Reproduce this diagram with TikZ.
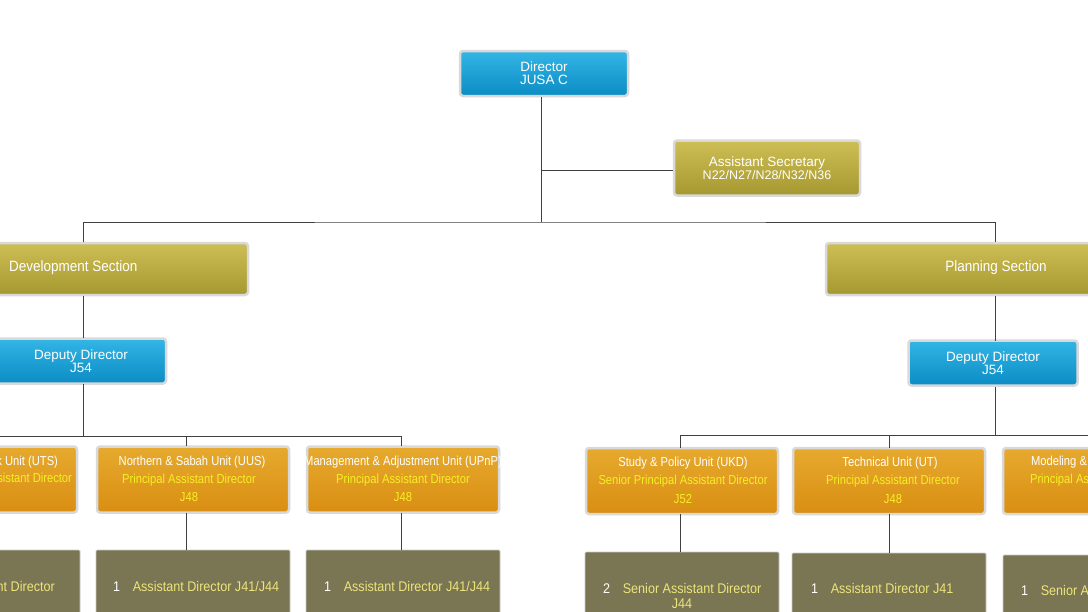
\documentclass[tikz,border=0pt]{standalone}
\usepackage{fontspec}
\setmainfont{Liberation Sans}
\definecolor{bt}{HTML}{33B5E5}\definecolor{bb}{HTML}{0B8CC4}
\definecolor{gt}{HTML}{CDBE55}\definecolor{gb}{HTML}{A69830}
\definecolor{ot}{HTML}{E6AA2E}\definecolor{ob}{HTML}{D98E12}
\definecolor{lowc}{HTML}{7A7552}\definecolor{ytx}{HTML}{F5F025}
\definecolor{lytx}{HTML}{EDE57A}
\begin{document}
\begin{tikzpicture}[x=1pt,y=-1pt,
  frame/.style={rounded corners=3pt,draw=gray!30,line width=2.5pt},
  bluebox/.style={frame,top color=bt,bottom color=bb,text=white,font=\fontsize{13.5}{14}\selectfont},
  goldbox/.style={frame,top color=gt,bottom color=gb,text=white},
  unitbox/.style={frame,top color=ot,bottom color=ob},
  lowbox/.style={rounded corners=1pt,fill=lowc,draw=gray!40,line width=0.8pt},
  ln/.style={draw=black!75,line width=0.8pt},
  wt/.style={text=white},
  yt/.style={text=ytx},
  uf/.style={font=\fontsize{13}{15}\selectfont,xscale=0.86},
  lf/.style={font=\fontsize{14}{15}\selectfont,xscale=0.9}]
\useasboundingbox (0,0) rectangle (1088,611);
\clip (0,0) rectangle (1088,611);
\fill[white] (0,0) rectangle (1088,611);
% top
\node[bluebox,minimum width=168pt,minimum height=45pt,align=center] (dir) at (544,73.5) {Director\\[-1pt]JUSA C};
\node[goldbox,minimum width=186pt,minimum height=55pt,align=center,font=\fontsize{13.5}{14}\selectfont] (sec) at (767,168) {Assistant Secretary\\[-1pt]{\fontsize{12.5}{13}\selectfont N22/N27/N28/N32/N36}};
\coordinate (c1) at (541,222);
\coordinate (c2) at (541,170);
\draw[ln] (541,97) -- (c1);
\draw[ln] (c2) -- (sec.west |- c2);
% sections
\node[goldbox,minimum width=258pt,minimum height=52pt] (dev) at (119,269) {};
\node[wt,anchor=west,font=\fontsize{15}{15}\selectfont,xscale=0.9] (devt) at (6,268) {Development Section};
\node[goldbox,minimum width=274pt,minimum height=52pt] (pla) at (963,269) {};
\node[wt,font=\fontsize{15}{15}\selectfont,xscale=0.9] (plat) at (996,268) {Planning Section};
\draw[ln] (83,242) |- (c1) -| (995,242);
% deputies
\node[bluebox,minimum width=170pt,minimum height=45pt,align=center] (dl) at (81,361) {Deputy Director\\[-1pt]J54};
\node[bluebox,minimum width=169pt,minimum height=45pt,align=center] (dr) at (993,363) {Deputy Director\\[-1pt]J54};
\draw[ln] (83,296) -- (83,338);
\draw[ln] (995,296) -- (995,341);
% left units
\coordinate (hl) at (83,436);
\draw[ln] (83,384) -- (hl);
\draw[ln] (-20,436) -- (401,436);
\foreach \n/\cx in {u1/-19,u2/193,u3/403}{
  \node[unitbox,minimum width=192pt,minimum height=66pt] (\n) at (\cx,479.5) {};
}
\draw[ln] (-19,436) -- (u1.north);
\draw[ln] (186,436) -- (186,446);
\draw[ln] (401,436) -- (401,446);
\node[wt,uf,anchor=east] (u1a) at (61,462) {Network Unit (UTS)};
\node[yt,uf,anchor=east] (u1b) at (75,479) {Principal Assistant Director};
\node[wt,uf] (u2a) at (192,462) {Northern \& Sabah Unit (UUS)};
\node[yt,uf] (u2b) at (189,480) {Principal Assistant Director};
\node[yt,uf] (u2c) at (189,497) {J48};
\node[wt,uf] (u3a) at (403,462) {Management \& Adjustment Unit (UPnP)};
\node[yt,uf] (u3b) at (403,480) {Principal Assistant Director};
\node[yt,uf] (u3c) at (403,497) {J48};
% right units
\draw[ln] (995,387) -- (995,435);
\draw[ln] (680,435) -- (1100,435);
\node[unitbox,minimum width=192pt,minimum height=66pt] (v1) at (682,481) {};
\node[unitbox,minimum width=192pt,minimum height=66pt] (v2) at (889,481) {};
\node[unitbox,minimum width=192pt,minimum height=66pt] (v3) at (1099,481) {};
\draw[ln] (680,435) -- (680,448);
\draw[ln] (889,435) -- (889,448);
\draw[ln] (1099,435) -- (v3.north);
\node[wt,uf] (v1a) at (683,463) {Study \& Policy Unit (UKD)};
\node[yt,uf] (v1b) at (683,481) {Senior Principal Assistant Director};
\node[yt,uf] (v1c) at (683,499) {J52};
\node[wt,uf] (v2a) at (890,463) {Technical Unit (UT)};
\node[yt,uf] (v2b) at (893,481) {Principal Assistant Director};
\node[yt,uf] (v2c) at (893,499) {J48};
\node[wt,uf,anchor=west] (v3a) at (1028,462) {Modeling \& Simulation Unit};
\node[yt,uf,anchor=west] (v3b) at (1027,480) {Principal Assistant Director};
% low boxes
\node[lowbox,minimum width=194pt,minimum height=80pt] (b1) at (-17,590) {};
\node[lowbox,minimum width=194pt,minimum height=80pt] (b2) at (193,590) {};
\node[lowbox,minimum width=194pt,minimum height=80pt] (b3) at (403,590) {};
\node[lowbox,minimum width=194pt,minimum height=80pt] (b4) at (682,592) {};
\node[lowbox,minimum width=194pt,minimum height=80pt] (b5) at (889,593) {};
\node[lowbox,minimum width=194pt,minimum height=80pt] (b6) at (1100,595) {};
\draw[ln] (186,513) -- (186,550);
\draw[ln] (401,513) -- (401,550);
\draw[ln] (680,514) -- (680,552);
\draw[ln] (889,514) -- (889,553);
\node[lf,anchor=east] (t1) at (58,586) {\textcolor{white}{1}\quad\textcolor{lytx}{Assistant Director}};
\node[lf,anchor=west] (t2) at (110,586) {\textcolor{white}{1}\quad\textcolor{lytx}{Assistant Director J41/J44}};
\node[lf,anchor=west] (t3) at (321,586) {\textcolor{white}{1}\quad\textcolor{lytx}{Assistant Director J41/J44}};
\node[lf,anchor=west] (t4) at (600,588) {\textcolor{white}{2}\quad\textcolor{lytx}{Senior Assistant Director}};
\node[lf,text=lytx] (t4b) at (682,604) {J44};
\node[lf,anchor=west] (t5) at (808,588) {\textcolor{white}{1}\quad\textcolor{lytx}{Assistant Director J41}};
\node[lf,anchor=west] (t6) at (1018,590) {\textcolor{white}{1}\quad\textcolor{lytx}{Senior Assistant Director}};
\end{tikzpicture}
\end{document}
